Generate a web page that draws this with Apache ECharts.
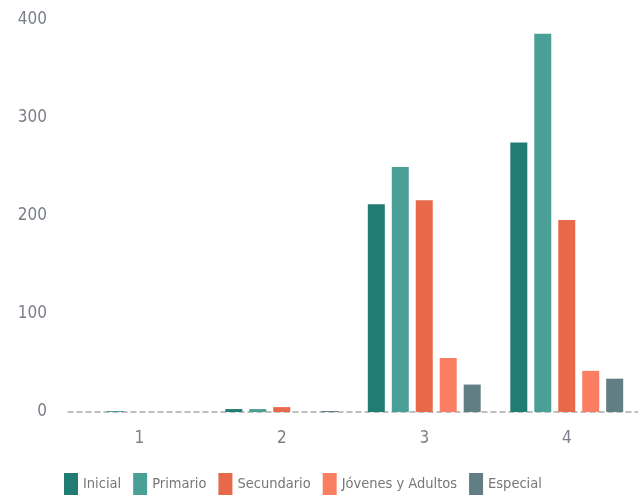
<!DOCTYPE html>
<html>
<head>
<meta charset="utf-8">
<script src="https://cdn.jsdelivr.net/npm/echarts@6/dist/echarts.min.js"></script>
<style>
  html, body { margin: 0; padding: 0; background: #fff; }
  #chart { width: 638px; height: 503px; }
</style>
</head>
<body>
<div id="chart"></div>
<script>
// datos
const categories = ['1', '2', '3', '4'];
const seriesNames = ['Inicial', 'Primario', 'Secundario', 'Jóvenes y Adultos', 'Especial'];
const inicial = [0, 3, 212, 275];
const primario = [1, 3, 250, 386];
const secundario = [0, 5, 216, 196];
const jovenes = [0, 0, 55, 42];
const especial = [0, 1, 28, 34];
const yTicks = [0, 100, 200, 300, 400];

const colors = ['#217d74', '#4aa097', '#e8694a', '#fa7f62', '#607e83'];
const values = [inicial, primario, secundario, jovenes, especial];

const font = '"DejaVu Sans Condensed", "DejaVu Sans", sans-serif';
let myChart = echarts.init(document.getElementById('chart'));

let option = {
  animation: false,
  color: colors,
  grid: { left: 68, right: -3, top: 20, bottom: 91 },
  legend: {
    data: seriesNames,
    left: 59,
    bottom: 3,
    itemWidth: 14,
    itemHeight: 22,
    itemGap: 12,
    icon: 'rect',
    textStyle: { color: '#777', fontSize: 14.5, fontFamily: font }
  },
  xAxis: {
    type: 'category',
    data: categories,
    axisLine: { show: true, lineStyle: { color: '#aaa', type: [5, 4], width: 1.5 } },
    axisTick: { show: false },
    axisLabel: { color: '#7a7f87', fontSize: 17, fontFamily: font, margin: 18 }
  },
  yAxis: {
    type: 'value',
    min: yTicks[0],
    max: yTicks[yTicks.length - 1],
    interval: 100,
    splitLine: { show: false },
    axisLine: { show: false },
    axisTick: { show: false },
    axisLabel: { color: '#7a7f87', fontSize: 17, fontFamily: font, margin: 21 }
  },
  series: seriesNames.map((name, i) => ({
    name: name,
    type: 'bar',
    data: values[i],
    barWidth: 17,
    barGap: '41%',
    itemStyle: { color: colors[i] }
  }))
};

myChart.setOption(option);
</script>
</body>
</html>
